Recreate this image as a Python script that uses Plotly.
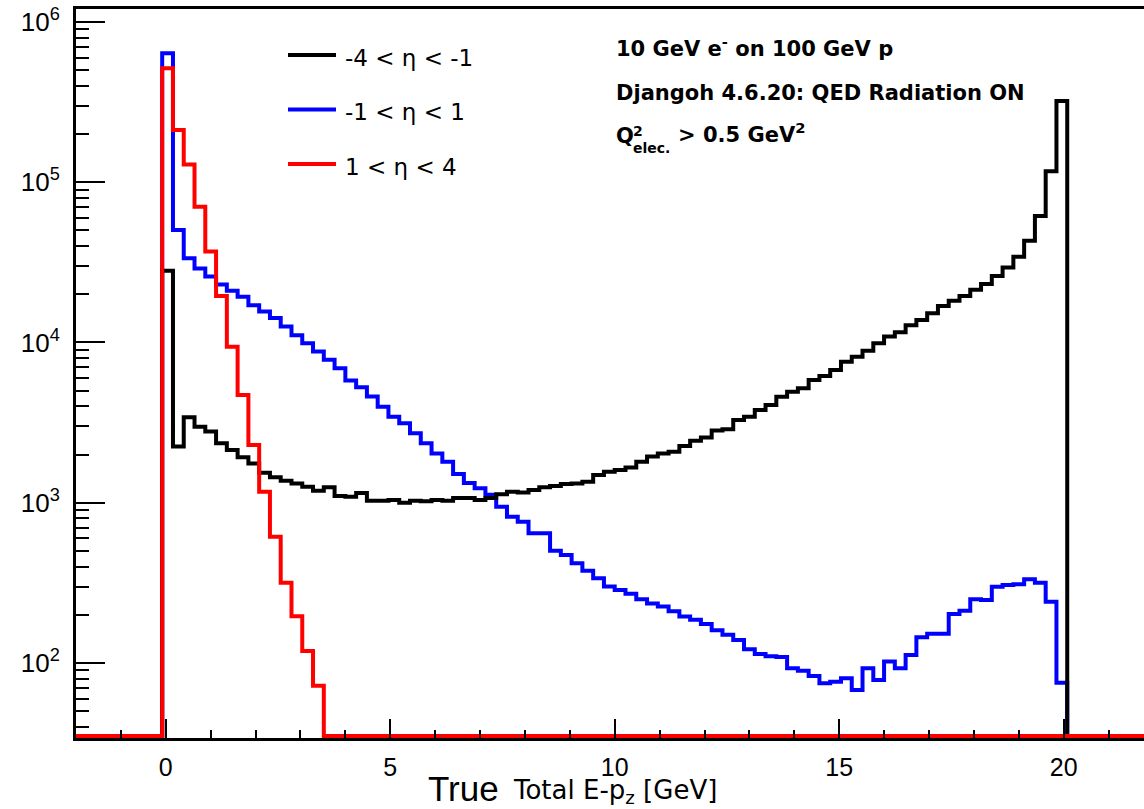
import numpy as np
import plotly.graph_objects as go

# ---------------- data (histogram: 100 bins from -2 to 22 GeV) ----------------
BIN_LO, BIN_HI, N_BINS = -2.0, 22.0, 100
FIRST_FILLED_BIN = 8          # bin [-0.08, 0.16]

series_labels = ["-4 < \u03b7 < -1", "-1 < \u03b7 < 1", "1 < \u03b7 < 4"]

black_counts = [
    28000, 2240, 3410, 2980, 2780, 2350, 2130, 1920, 1760, 1540,
    1440, 1370, 1320, 1260, 1190, 1250, 1100, 1090, 1150, 1030,
    1030, 1040, 1000, 1030, 1020, 1040, 1030, 1070, 1070, 1040,
    1070, 1130, 1170, 1160, 1200, 1250, 1270, 1310, 1320, 1350,
    1490, 1560, 1600, 1660, 1800, 1940, 2030, 2080, 2260, 2440,
    2550, 2820, 2870, 3280, 3440, 3790, 4080, 4590, 4930, 5180,
    5840, 6180, 6740, 7590, 8150, 8890, 9880, 10900, 11600, 12800,
    13800, 15200, 16900, 18200, 19500, 21300, 23200, 26000, 29400, 34300,
    43200, 61600, 117000, 321000,
]

blue_counts = [
    638000, 50400, 33500, 29000, 25800, 23000, 21000, 19300, 17100, 15600,
    14200, 12600, 11100, 9900, 8800, 7800, 6900, 5800, 5250, 4600,
    3970, 3440, 3130, 2710, 2350, 2030, 1800, 1510, 1330, 1230,
    1120, 944, 818, 762, 644, 644, 502, 472, 419, 377,
    338, 300, 285, 270, 250, 235, 225, 210, 195, 186,
    175, 160, 150, 139, 122, 114, 110, 109, 92.7, 89.5,
    83, 74.7, 76.4, 80.2, 67.8, 92.7, 78.3, 102, 92.7, 112,
    145, 152, 152, 202, 212, 250, 247, 299, 307, 310,
    333, 317, 241, 75.3,
]

red_counts = [
    514000, 212000, 129000, 70400, 36900, 19500, 9400, 4700, 2290, 1170,
    614, 317, 196, 119, 72,
]

x_tick_vals = [0, 5, 10, 15, 20]
y_tick_vals = [1e2, 1e3, 1e4, 1e5, 1e6]
y_tick_text = ["10<sup>2</sup>", "10<sup>3</sup>", "10<sup>4</sup>",
               "10<sup>5</sup>", "10<sup>6</sup>"]

# ---------------- geometry ----------------
W, H = 1144, 809
L, R, T, B = 76, 1144, 9, 738
X_RANGE = [-2.0, 21.79]
Y_LOG_RANGE = [1.532, 6.081]

edges = np.linspace(BIN_LO, BIN_HI, N_BINS + 1)
floor_val = 10 ** (Y_LOG_RANGE[0] + 0.012)   # empty bins drawn on the frame bottom


def step_xy(counts):
    v = np.zeros(N_BINS)
    v[FIRST_FILLED_BIN:FIRST_FILLED_BIN + len(counts)] = counts
    v = np.where(v > 0, v, floor_val)
    return edges, np.append(v, v[-1])


def pxx(xp):
    return (xp - L) / (R - L)


def pxy(yp):
    return (B - yp) / (B - T)


fig = go.Figure()
# draw order: blue, black, red (red on top)
for counts, color, name in [(blue_counts, "#0000ff", series_labels[1]),
                            (black_counts, "#000000", series_labels[0]),
                            (red_counts, "#ff0000", series_labels[2])]:
    xs, ys = step_xy(counts)
    fig.add_trace(go.Scatter(x=xs, y=ys, mode="lines", name=name,
                             line=dict(color=color, width=4, shape="hv"),
                             showlegend=False, hoverinfo="skip"))

shapes = []
annotations = []

# manual legend
legend_rows = [(series_labels[0], "#000000", 55),
               (series_labels[1], "#0000ff", 109.5),
               (series_labels[2], "#ff0000", 164)]
for text, color, yl in legend_rows:
    shapes.append(dict(type="line", xref="paper", yref="paper",
                       x0=pxx(288), x1=pxx(336), y0=pxy(yl), y1=pxy(yl),
                       line=dict(color=color, width=4)))
    annotations.append(dict(text=text, xref="paper", yref="paper",
                            x=pxx(343), y=pxy(yl + 3), xanchor="left", yanchor="middle",
                            showarrow=False,
                            font=dict(family="DejaVu Sans", size=23, color="black")))

bold = dict(family="DejaVu Sans", size=21, color="black")
small_bold = dict(family="DejaVu Sans", size=14, color="black")
annotations += [
    dict(text="<b>10 GeV e<sup>-</sup> on 100 GeV p</b>", x=pxx(614), y=pxy(47),
         xanchor="left", yanchor="middle", font=bold),
    dict(text="<b>Djangoh 4.6.20: QED Radiation ON</b>", x=pxx(614), y=pxy(93),
         xanchor="left", yanchor="middle", font=bold),
    dict(text="<b>Q</b>", x=pxx(614), y=pxy(136),
         xanchor="left", yanchor="middle", font=bold),
    dict(text="<b>2</b>", x=pxx(631), y=pxy(131),
         xanchor="left", yanchor="middle", font=small_bold),
    dict(text="<b>elec.</b>", x=pxx(631), y=pxy(148),
         xanchor="left", yanchor="middle", font=small_bold),
    dict(text="<b>> 0.5 GeV<sup>2</sup></b>", x=pxx(676), y=pxy(133),
         xanchor="left", yanchor="middle", font=bold),
    # axis title
    dict(text="True", x=pxx(426), y=pxy(788), xanchor="left", yanchor="middle",
         font=dict(family="Liberation Sans", size=35, color="black")),
    dict(text="Total E-p<sub>z</sub> [GeV]", x=pxx(511), y=pxy(791),
         xanchor="left", yanchor="middle",
         font=dict(family="DejaVu Sans", size=26, color="black")),
]
for a in annotations:
    a.setdefault("xref", "paper")
    a.setdefault("yref", "paper")
    a.setdefault("showarrow", False)

minor_y = [k * 10 ** n for n in range(1, 7) for k in range(2, 10)]

fig.update_layout(
    width=W, height=H,
    margin=dict(l=L, r=W - R, t=T, b=H - B, pad=0),
    paper_bgcolor="white", plot_bgcolor="white",
    shapes=shapes, annotations=annotations,
    xaxis=dict(range=X_RANGE, showgrid=False, zeroline=False,
               showline=True, linewidth=3, linecolor="black", mirror=True,
               tickmode="array", tickvals=x_tick_vals,
               ticks="inside", ticklen=19, tickwidth=2, tickcolor="black",
               minor=dict(ticks="inside", ticklen=8, tickwidth=2, tickcolor="black",
                          tickmode="linear", tick0=0, dtick=1),
               tickfont=dict(family="Liberation Sans", size=25, color="black"),
               ticklabelstandoff=5),
    yaxis=dict(type="log", range=Y_LOG_RANGE, showgrid=False, zeroline=False,
               showline=True, linewidth=3, linecolor="black", mirror=False,
               tickmode="array", tickvals=y_tick_vals, ticktext=y_tick_text,
               ticks="inside", ticklen=29, tickwidth=2, tickcolor="black",
               minor=dict(ticks="inside", ticklen=13, tickwidth=2, tickcolor="black",
                          tickmode="array", tickvals=minor_y),
               tickfont=dict(family="Liberation Sans", size=26, color="black"),
               ticklabelstandoff=8),
)

fig.write_html("out.html")
